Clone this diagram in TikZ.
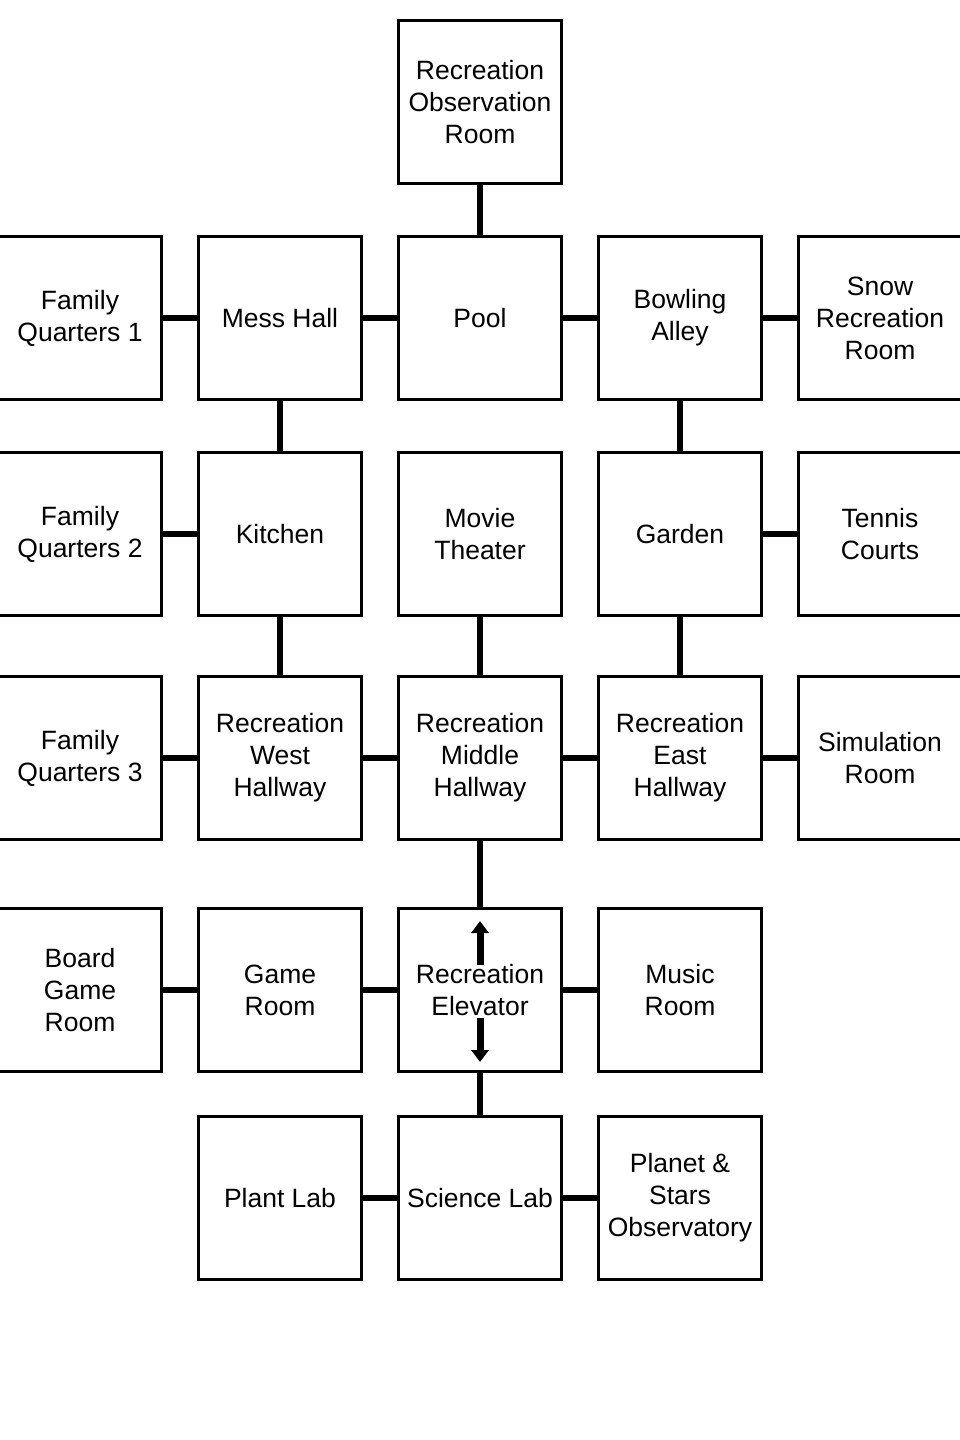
\documentclass[tikz,border=0pt]{standalone}
\usepackage{fontspec}
\setmainfont{Liberation Sans}
\usetikzlibrary{arrows.meta}
\begin{document}
\begin{tikzpicture}[x=1pt,y=-1pt,
  room/.style={draw=black,line width=3pt,minimum width=163pt,minimum height=163pt,
    align=center,inner sep=0pt,font=\fontsize{26.5}{32}\selectfont},
  link/.style={line width=6pt},
  liftarrow/.style={line width=7pt,-{Triangle[length=12pt,width=17pt]}}]
\clip (0,0) rectangle (960,1440);
\useasboundingbox (0,0) rectangle (960,1440);
\fill[white] (0,0) rectangle (960,1440);
% row 0
\node[room] (obs) at (480,102) {Recreation\\Observation\\Room};
% row 1
\node[room] (fq1) at (80,318) {Family\\Quarters 1};
\node[room] (mess) at (280,318) {Mess Hall};
\node[room] (pool) at (480,318) {Pool};
\node[room] (bowl) at (680,318) {Bowling\\Alley};
\node[room] (snow) at (880,318) {Snow\\Recreation\\Room};
% row 2
\node[room] (fq2) at (80,534) {Family\\Quarters 2};
\node[room] (kitchen) at (280,534) {Kitchen};
\node[room] (movie) at (480,534) {Movie\\Theater};
\node[room] (garden) at (680,534) {Garden};
\node[room] (tennis) at (880,534) {Tennis\\Courts};
% row 3
\node[room] (fq3) at (80,758) {Family\\Quarters 3};
\node[room] (rwh) at (280,758) {Recreation\\West\\Hallway};
\node[room] (rmh) at (480,758) {Recreation\\Middle\\Hallway};
\node[room] (reh) at (680,758) {Recreation\\East\\Hallway};
\node[room] (sim) at (880,758) {Simulation\\Room};
% row 4
\node[room] (board) at (80,990) {Board\\Game\\Room};
\node[room] (game) at (280,990) {Game\\Room};
\node[room] (elev) at (480,990) {Recreation\\Elevator};
\node[room] (music) at (680,990) {Music\\Room};
% row 5
\node[room] (plant) at (280,1198) {Plant Lab};
\node[room] (sci) at (480,1198) {Science Lab};
\node[room] (planet) at (680,1198) {Planet \&\\Stars\\Observatory};
% links
\draw[link] (obs) -- (pool);
\draw[link] (fq1) -- (mess);
\draw[link] (mess) -- (pool);
\draw[link] (pool) -- (bowl);
\draw[link] (bowl) -- (snow);
\draw[link] (mess) -- (kitchen);
\draw[link] (bowl) -- (garden);
\draw[link] (fq2) -- (kitchen);
\draw[link] (garden) -- (tennis);
\draw[link] (kitchen) -- (rwh);
\draw[link] (movie) -- (rmh);
\draw[link] (garden) -- (reh);
\draw[link] (fq3) -- (rwh);
\draw[link] (rwh) -- (rmh);
\draw[link] (rmh) -- (reh);
\draw[link] (reh) -- (sim);
\draw[link] (rmh) -- (elev);
\draw[link] (board) -- (game);
\draw[link] (game) -- (elev);
\draw[link] (elev) -- (music);
\draw[link] (elev) -- (sci);
\draw[link] (plant) -- (sci);
\draw[link] (sci) -- (planet);
% elevator arrows
\coordinate (upA) at (480,965);
\coordinate (upB) at (480,921);
\coordinate (dnA) at (480,1018);
\coordinate (dnB) at (480,1062);
\draw[liftarrow] (upA) -- (upB);
\draw[liftarrow] (dnA) -- (dnB);
\end{tikzpicture}
\end{document}
